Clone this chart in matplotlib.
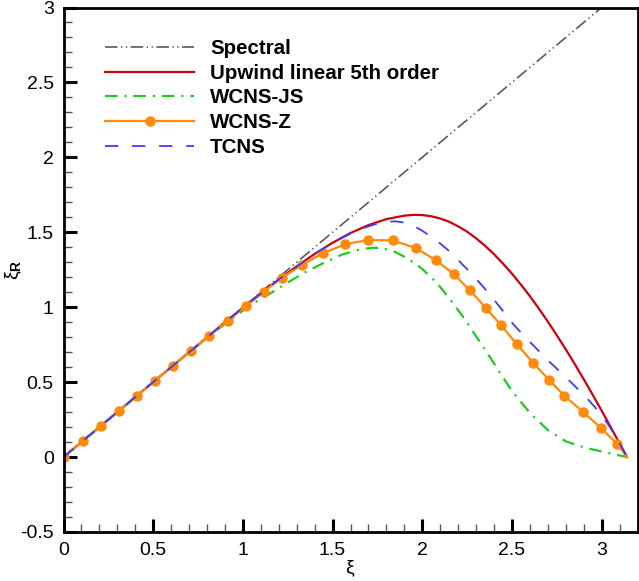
import matplotlib
matplotlib.use("Agg")
import matplotlib.pyplot as plt
from matplotlib.ticker import MultipleLocator

plt.rcParams['font.family'] = ['Liberation Sans', 'DejaVu Sans']
plt.rcParams['axes.unicode_minus'] = False
plt.rcParams['lines.scale_dashes'] = False
plt.rcParams['mathtext.fontset'] = 'custom'
plt.rcParams['mathtext.rm'] = 'Liberation Sans'
plt.rcParams['mathtext.bf'] = 'Liberation Sans:bold'

# ---------------- data ----------------
spectral_x = [0.0, 3.1416]
spectral_y = [0.0, 3.1416]

upwind_x = [0.0, 0.5, 0.9, 1.0, 1.1, 1.2, 1.3, 1.4, 1.5, 1.6, 1.7, 1.8, 1.9, 1.95,
            2.0, 2.05, 2.1, 2.15, 2.2, 2.25, 2.3, 2.35, 2.4, 2.45, 2.5, 2.55, 2.6,
            2.65, 2.7, 2.75, 2.8, 2.85, 2.9, 2.95, 3.0, 3.05, 3.1, 3.1416]
upwind_y = [0.0, 0.5, 0.899, 0.997, 1.093, 1.185, 1.273, 1.355, 1.43, 1.495, 1.548, 1.588, 1.611, 1.616,
            1.615, 1.607, 1.592, 1.57, 1.54, 1.504, 1.46, 1.41, 1.354, 1.291, 1.224, 1.151, 1.074,
            0.991, 0.904, 0.813, 0.719, 0.621, 0.52, 0.416, 0.31, 0.201, 0.092, 0.0]

wcnsjs_x = [0.0, 0.5, 0.8, 0.95, 1.05, 1.15, 1.25, 1.35, 1.45, 1.55, 1.65, 1.72, 1.78,
            1.85, 1.92, 2.0, 2.08, 2.16, 2.24, 2.32, 2.4, 2.5, 2.6, 2.7, 2.8, 2.9, 3.0, 3.1416]
wcnsjs_y = [0.0, 0.5, 0.795, 0.935, 1.02, 1.09, 1.165, 1.235, 1.295, 1.35, 1.385, 1.397, 1.394,
            1.368, 1.325, 1.255, 1.165, 1.045, 0.915, 0.77, 0.625, 0.44, 0.295, 0.18, 0.105, 0.065, 0.037, 0.0]

wcnsz_x = [0.0, 0.108, 0.210, 0.309, 0.411, 0.512, 0.610, 0.710, 0.813, 0.915, 1.016,
           1.116, 1.218, 1.330, 1.445, 1.572, 1.696, 1.836, 1.963, 2.076, 2.178, 2.264,
           2.353, 2.440, 2.528, 2.617, 2.706, 2.792, 2.896, 2.997, 3.086, 3.1416]
wcnsz_y = [0.0, 0.106, 0.206, 0.309, 0.409, 0.510, 0.610, 0.710, 0.811, 0.908, 1.007,
           1.102, 1.196, 1.283, 1.359, 1.421, 1.448, 1.446, 1.395, 1.314, 1.219, 1.114,
           0.998, 0.878, 0.753, 0.630, 0.516, 0.409, 0.302, 0.193, 0.088, 0.0]

tcns_x = [0.0, 0.5, 1.0, 1.2, 1.4, 1.5, 1.6, 1.7, 1.75, 1.8, 1.85, 1.9, 1.95, 2.0, 2.05,
          2.1, 2.15, 2.2, 2.265, 2.33, 2.39, 2.45, 2.505, 2.57, 2.64, 2.71, 2.785, 2.85,
          2.92, 2.98, 3.035, 3.09, 3.1416]
tcns_y = [0.0, 0.5, 0.997, 1.185, 1.355, 1.43, 1.492, 1.54, 1.558, 1.57, 1.573, 1.565, 1.545,
          1.51, 1.47, 1.425, 1.375, 1.315, 1.235, 1.15, 1.065, 0.975, 0.89, 0.805, 0.72, 0.635,
          0.55, 0.475, 0.39, 0.31, 0.22, 0.115, 0.0]

labels = ["Spectral", "Upwind linear 5th order", "WCNS-JS", "WCNS-Z", "TCNS"]

xticks = [0, 0.5, 1, 1.5, 2, 2.5, 3]
xtick_labels = ["0", "0.5", "1", "1.5", "2", "2.5", "3"]
yticks = [-0.5, 0, 0.5, 1, 1.5, 2, 2.5, 3]
ytick_labels = ["-0.5", "0", "0.5", "1", "1.5", "2", "2.5", "3"]

# ---------------- figure ----------------
fig = plt.figure(figsize=(6.39, 5.81), dpi=100)
ax = fig.add_axes([63.5 / 639, (581 - 532) / 581, 574 / 639, 524.5 / 581])

ax.plot(spectral_x, spectral_y, color='#5a5a5a', lw=1.2,
        dashes=(9, 2.5, 1, 2.5, 1, 2.5), label=labels[0])
ax.plot(upwind_x, upwind_y, color='#d0000c', lw=1.6, label=labels[1])
ax.plot(wcnsjs_x, wcnsjs_y, color='#1ecb1e', lw=1.6,
        dashes=(9, 5, 1.5, 5), label=labels[2])
ax.plot(wcnsz_x, wcnsz_y, color='#ff8a0a', lw=1.6, marker='o', markersize=6.5,
        markevery=list(range(len(wcnsz_x) - 1)), label=labels[3])
ax.plot(tcns_x, tcns_y, color='#3c3cff', lw=1.3, dashes=(9.5, 10), label=labels[4])

ax.set_xlim(0, 3.2)
ax.set_ylim(-0.5, 3)
ax.set_xticks(xticks)
ax.set_xticklabels(xtick_labels)
ax.set_yticks(yticks)
ax.set_yticklabels(ytick_labels)
ax.xaxis.set_minor_locator(MultipleLocator(0.1))
ax.yaxis.set_minor_locator(MultipleLocator(0.1))

ax.tick_params(which='major', direction='in', length=9.5, width=2.2,
               labelsize=14, pad=7, top=False, right=False)
ax.tick_params(which='minor', direction='in', length=5.5, width=1.0,
               color='#555555', top=False, right=False)
for s in ax.spines.values():
    s.set_linewidth(2.0)

ax.set_xlabel(r'$\mathrm{\xi}$', fontsize=14, labelpad=0)
ax.set_ylabel(r'$\mathrm{\xi}_{\mathbf{R}}$', fontsize=14)
ax.yaxis.set_label_coords(-0.068, 0.5)

leg = ax.legend(loc='upper left', bbox_to_anchor=(0.073, 0.94), frameon=False,
                prop={'family': 'Liberation Sans', 'weight': 'bold', 'size': 14.8},
                handlelength=4.3, handletextpad=0.8, labelspacing=0.28,
                borderaxespad=0, borderpad=0)

fig.savefig('out.png', dpi=100)
